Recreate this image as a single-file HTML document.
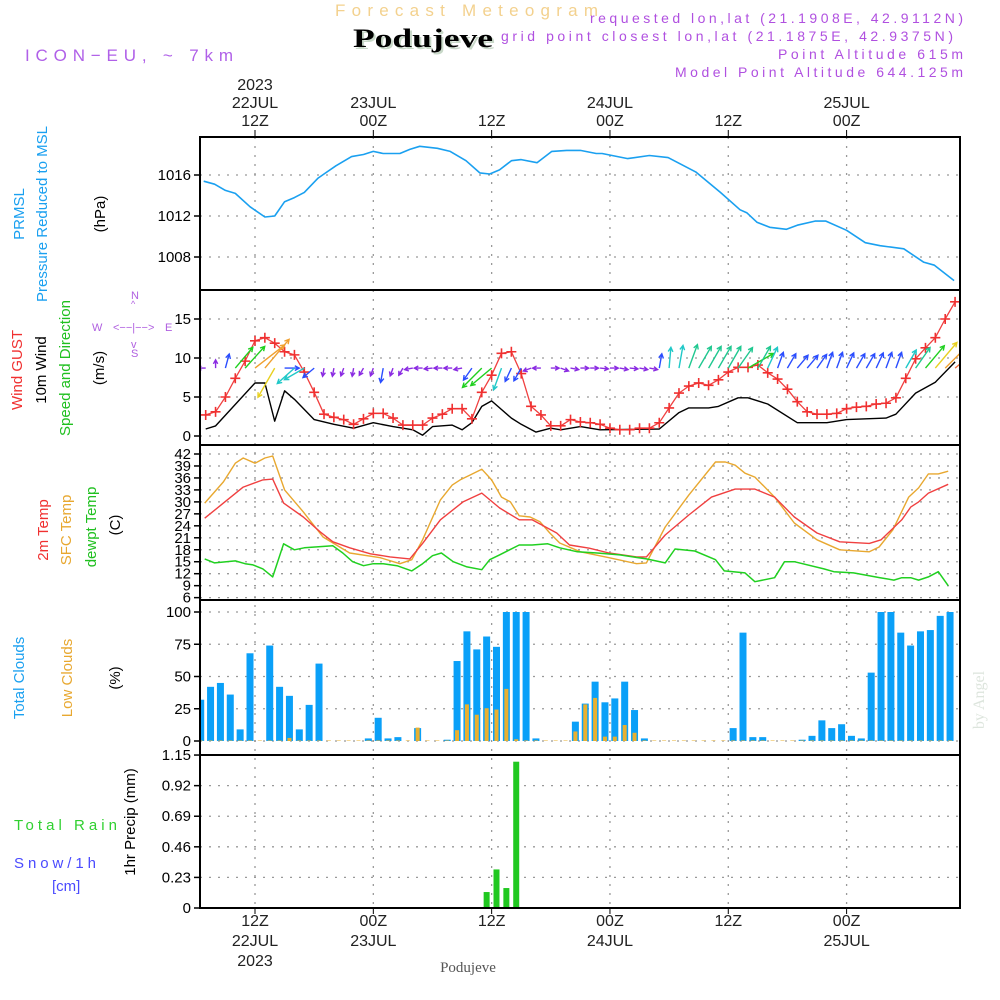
<!DOCTYPE html>
<html><head><meta charset="utf-8"><style>
html,body{margin:0;padding:0;background:#fff;}
svg{display:block;font-family:"Liberation Sans",sans-serif;}
</style></head><body>
<svg id="chart" width="1000" height="1000" viewBox="0 0 1000 1000" xmlns="http://www.w3.org/2000/svg">
<g id="static">
 <text x="335" y="16" font-size="17" fill="#f3d18e" textLength="263" lengthAdjust="spacing">Forecast Meteogram</text>
 <text x="355" y="49" font-size="26" font-weight="bold" font-family="Liberation Serif,serif" fill="#c8d8c8" textLength="140" lengthAdjust="spacingAndGlyphs">Podujeve</text>
 <text x="353" y="47" font-size="26" font-weight="bold" font-family="Liberation Serif,serif" fill="#000" textLength="140" lengthAdjust="spacingAndGlyphs">Podujeve</text>
 <text x="25" y="61" font-size="17" fill="#b060e8" textLength="208">ICON−EU, ~ 7km</text>
 <g font-size="14" fill="#b050e0" text-anchor="end">
  <text x="963" y="23" textLength="373">requested lon,lat (21.1908E, 42.9112N)</text>
  <text x="953" y="41" textLength="452">grid point closest lon,lat (21.1875E, 42.9375N)</text>
  <text x="963" y="59" textLength="185">Point Altitude 615m</text>
  <text x="963" y="77" textLength="288">Model Point Altitude 644.125m</text>
 </g>
 <text transform="translate(984,700) rotate(-90)" text-anchor="middle" font-size="16" font-family="Liberation Serif,serif" fill="#dde5dd">by Angel</text>
 <g font-size="15">
  <text transform="translate(24,214) rotate(-90)" text-anchor="middle" fill="#1aa0f0">PRMSL</text>
  <text transform="translate(47,214) rotate(-90)" text-anchor="middle" fill="#1aa0f0">Pressure Reduced to MSL</text>
  <text transform="translate(105,214) rotate(-90)" text-anchor="middle" fill="#000">(hPa)</text>
  <text transform="translate(22,370) rotate(-90)" text-anchor="middle" fill="#f03030">Wind GUST</text>
  <text transform="translate(46,370) rotate(-90)" text-anchor="middle" fill="#000">10m Wind</text>
  <text transform="translate(70,368) rotate(-90)" text-anchor="middle" fill="#20c020">Speed and Direction</text>
  <text transform="translate(104,368) rotate(-90)" text-anchor="middle" fill="#000">(m/s)</text>
  <text transform="translate(48,530) rotate(-90)" text-anchor="middle" fill="#f03030">2m Temp</text>
  <text transform="translate(71,530) rotate(-90)" text-anchor="middle" fill="#e8a830">SFC Temp</text>
  <text transform="translate(96,527) rotate(-90)" text-anchor="middle" fill="#20c020">dewpt Temp</text>
  <text transform="translate(120,525) rotate(-90)" text-anchor="middle" fill="#000">(C)</text>
  <text transform="translate(24,678) rotate(-90)" text-anchor="middle" fill="#1aa0f0">Total Clouds</text>
  <text transform="translate(72,678) rotate(-90)" text-anchor="middle" fill="#e8a830">Low Clouds</text>
  <text transform="translate(120,678) rotate(-90)" text-anchor="middle" fill="#000">(%)</text>
  <text transform="translate(135,822) rotate(-90)" text-anchor="middle" fill="#000">1hr Precip (mm)</text>
  <text x="14" y="830" fill="#30d030" textLength="103" lengthAdjust="spacing">Total  Rain</text>
  <text x="14" y="868" fill="#4a4aff" textLength="82">Snow/1h</text>
  <text x="52" y="891" fill="#4a4aff">[cm]</text>
 </g>
 <g font-size="11" fill="#b060e0">
  <text x="131" y="299">N</text><text x="131" y="307" font-size="9">^</text>
  <text x="92" y="331">W</text><text x="113" y="331">&lt;−−|−−&gt;</text><text x="165" y="331">E</text>
  <text x="131" y="348">v</text><text x="131" y="357">S</text>
 </g>
 <text x="468" y="972" text-anchor="middle" font-size="15" font-family="Liberation Serif,serif" fill="#555">Podujeve</text>
</g>
<g id="dyn"></g>
</svg>
<script>
// ---------- DATA ----------
const pressHours = [6.8,7.9,9,10,11.5,13,14,15,16,17,18.4,19,20.2,21.8,23,24,25,26.7,27.7,28.7,30.5,31.8,33.4,34.8,35.8,36.8,38,39,40.6,42.1,43.6,45,46.6,47.2,49.8,52,53.9,56.7,59.2,61.2,61.9,62.9,64.2,65.9,67,68.8,69.9,72,73.9,75.4,77.8,79.8,80.9,82.9];
const pressVals = [1015.4,1015.1,1014.5,1014.2,1012.9,1011.9,1012.0,1013.4,1013.8,1014.3,1015.7,1016.1,1016.9,1017.8,1018.0,1018.3,1018.1,1018.1,1018.5,1018.8,1018.6,1018.3,1017.4,1016.2,1016.1,1016.5,1017.4,1017.5,1017.2,1018.3,1018.4,1018.4,1018.1,1018.1,1017.6,1017.9,1017.7,1016.3,1014.3,1012.6,1012.3,1011.4,1010.9,1010.7,1011.1,1011.5,1011.5,1010.6,1009.4,1009.1,1008.8,1007.5,1007.2,1005.7];
const pressTicks = [1008,1012,1016];

const gustStart = 7;
const gustVals = [2.7,3.1,5,7.4,9.6,12.2,12.6,11.9,10.8,10.4,8.2,5.6,2.8,2.4,2.1,1.5,2.2,2.9,2.9,2.3,1.4,1.4,1.4,2.3,2.8,3.5,3.5,2.2,5.6,7.8,10.6,10.8,8,3.8,2.7,1.3,1.3,2.1,1.8,1.7,1.5,1.0,0.8,0.8,1.0,1.0,1.7,3.6,5.5,6.4,6.8,6.5,7.2,8.2,8.8,8.8,9.1,8.1,7.3,6.0,4.4,3.1,2.8,2.8,2.9,3.5,3.7,3.8,4.1,4.2,4.9,7.4,9.9,11.3,12.6,15,17.2];
const windHours = [7,8,12,13,14,15,16,18,20,22,24,26,28,29,30,32,33,34,35,36,38,39,40.5,42,43,45,47,53,55,56,58,59,61,62,64,67,70,72,74,76,77,79,81,83];
const windVals = [0.9,1.3,6.8,6.8,1.9,5.8,4.7,2.1,1.5,1.0,1.7,1.2,0.8,0.1,1.2,1.4,0.8,1.7,3.8,4.5,2.3,1.5,0.5,1.0,0.8,1.2,0.8,0.9,3.0,3.6,3.6,3.8,4.9,4.9,4.1,1.7,1.7,2.1,2.2,2.3,2.8,5.5,6.9,9.5];
const arrowDir = [270,0,15,40,42,52,40,210,90,228,240,230,190,190,200,190,210,200,190,200,210,260,270,265,270,270,260,215,225,230,200,205,210,250,270,90,110,100,90,90,95,90,100,95,100,100,10,5,10,20,30,30,30,30,35,60,30,25,20,30,40,40,35,20,20,25,30,30,25,20,20,30,35,40,40,45,50];
const arrowSpd = [1.5,1.5,3,6,6.5,8.5,8.5,7.5,3,5,5,3,1.5,1.5,1.5,1.5,1.5,1.5,3,1.5,1.5,1.5,1.5,1.5,1.5,1.5,1.5,3,6,6,5,3,3,1.5,1.5,1.5,1.5,1.5,1.5,1.5,1.5,1.5,1.5,1.5,1.5,1.5,3,4.5,5,5.5,5.5,5.5,5.5,5.5,5.5,6.5,5.5,5,3.5,3.5,3.5,3.5,3.5,3.5,3.5,3.5,3.5,3.5,3.5,3.5,3.5,4.5,5.5,6.5,7.5,8.5,9.5];
const windTicks = [0,5,10,15];

const t2Hours = [6.9,8.8,10.8,12.8,13.8,14.9,16.9,18.6,19.9,21.6,23.7,25.7,27.7,29,30.8,33.1,35,36.8,38.8,40.1,42.6,43.9,45.9,47.9,50.7,51.7,53.6,56,58.3,60.7,62.7,64.7,66.7,69,71.3,74.3,75.5,77.6,78.5,79.3,80.3,82.3];
const t2Vals = [25.9,29.7,33.7,35.5,35.7,29.7,26.2,22.5,20,18.5,17,16.2,15.7,19.6,25.5,30,32.2,28.5,25.5,25.5,22.2,19.2,18.4,17.2,16.2,16.2,21.7,26.7,31.2,33.2,33.2,31.2,26.2,22.2,20,19.6,20.5,25.5,28.7,30,32.2,34.4];
const sfcHours = [6.9,8.8,10,10.8,12,13,13.8,15,16.9,18.9,21.6,24.7,26.7,27.9,29,30.8,32,32.8,33.8,35,36,37,37.9,38.8,39.9,40.9,41.9,42.9,45,47.9,50.7,51.7,53.6,56,58.7,59.7,60.7,61.7,62.7,64.7,66.7,69,71.3,74.3,75.3,76.7,78.3,79.3,80.3,81.3,82.3];
const sfcVals = [29.7,35,39.7,41,39.7,41,41.5,33,27.5,21.2,17.2,16,14.5,15.5,20.5,30.5,34.2,35.5,36.7,38.2,35.5,31.2,30,26.5,26.2,25,22.2,19.7,17.5,16,14.5,14.7,23.7,31.7,40,40,39.2,37.2,36.2,31.2,24.7,20.5,18,17.5,18.7,23,31.2,33.5,37,37,37.7];
const dewHours = [6.9,7.9,10,11,11.8,12.8,13.8,14.9,16,17,19.9,20.9,21.9,23,24,25,26.4,27.9,29,30,30.9,32.1,33.5,35,35.8,36.8,38.8,40.1,41.7,42.9,44.7,46.7,49,51.7,53.6,54.6,56.6,58.7,59.6,61.7,62.7,64.7,65.7,66.7,69.7,70.7,72.7,75.4,76.8,77.6,78.5,79.3,80.3,81.3,82.3];
const dewVals = [15.7,14.7,15.2,14.5,14.2,13.2,11.2,19.5,18,18.5,19,17.2,15,14,14.5,14.5,14,12.7,14.5,16.5,17.2,15,13.7,13,15.5,16.7,19.2,19.2,19.5,18.5,17.5,17.2,16.7,15.7,14.7,18.2,17.7,15.5,12.7,12.2,10,11,15,15,13.2,12.5,12.2,11,10.4,11,11,10.4,11.2,12.5,9,8.2];
const tempTicks = [6,9,12,15,18,21,24,27,30,33,36,39,42];

const cloudStart = 7;
const totalCloud = [32,42,45,36,9,68,0,74,42,35,9,28,60,0,0,0,0,2,18,2,3,0,10,0,0,1,62,85,71,81,73,100,100,100,2,0,0,0,15,29,46,30,33,46,24,2,0,0,0,0,0,0,0,0,10,84,3,3,0,0,0,1,4,16,10,13,4,2,53,100,100,84,74,85,86,97,100];
const lowCloud   = [0,0,0,0,0,0,0,0,0,2,0,0,0,0,0,0,0,0,0,0,0,0,10,0,0,0,8,28,20,25,24,40,1,0,0,0,0,0,7,28,33,3,3,12,6,0,0,0,0,0,0,0,0,0,0,0,0,0,0,0,0,0,0,0,0,0,0,0,0,0,0,0,0,0,0,0,0];
const cloudTicks = [0,25,50,75,100];

const precipHours = [36,37,38,39];
const precipVals = [0.12,0.29,0.15,1.1];
const precipTicks = ["0","0.23","0.46","0.69","0.92","1.15"];

const topLabels = [[12,"2023","22JUL","12Z"],[24,"","23JUL","00Z"],[36,"","","12Z"],[48,"","24JUL","00Z"],[60,"","","12Z"],[72,"","25JUL","00Z"]];
const botLabels = [[12,"12Z","22JUL","2023"],[24,"00Z","23JUL",""],[36,"12Z","",""],[48,"00Z","24JUL",""],[60,"12Z","",""],[72,"00Z","25JUL",""]];

// ---------- AXES ----------
const L=200,R=960;
const P={press:[137,290],wind:[290,445],temp:[445,600],cloud:[600,755],prec:[755,908]};
const xh = h => 255 + (h-12)*9.86;
const yPress = v => 175 + (1016 - v)*10.25;
const yWind = v => 436 - v*7.8;
const yTemp = v => 454 + (42 - v)*3.99;
const yCloud = v => 741 - v*1.29;
const yPrec = v => 908 - v*133;

const NS="http://www.w3.org/2000/svg";
const dyn=document.getElementById('dyn');
function mk(tag,attrs,parent){const e=document.createElementNS(NS,tag);for(const k in attrs)e.setAttribute(k,attrs[k]);(parent||dyn).appendChild(e);return e;}

const defs=mk('defs',{});
const cp=mk('clipPath',{id:'plotclip'},defs);
mk('rect',{x:L,y:137,width:R-L,height:771},cp);

// grids
const grid=mk('g',{stroke:'#999','stroke-width':1.3,'stroke-dasharray':'2,7',fill:'none'});


for(const t of topLabels){const l=mk('line',{x1:xh(t[0]),x2:xh(t[0]),y1:137,y2:908},grid);
 
 }
function hgrid(vals,f){for(const v of vals){const y=f(v);const l=mk('line',{x1:L,x2:R,y1:y,y2:y},grid);
 
 }}
hgrid(pressTicks,yPress);hgrid(windTicks,yWind);hgrid(tempTicks,yTemp);hgrid(cloudTicks,yCloud);
hgrid(precipTicks.map(Number),yPrec);

// y tick labels
function yticks(vals,f,labels){const g=mk('g',{'font-size':15,fill:'#000'});
 
 
 vals.forEach((v,i)=>{const y=f(v);mk('line',{x1:L-6,x2:L,y1:y,y2:y,stroke:'#000','stroke-width':1.5},g);
  const t=mk('text',{x:L-9,y:y+5,'text-anchor':'end'},g);t.textContent=labels?labels[i]:String(v);
  
  });}
yticks(pressTicks,yPress);yticks(windTicks,yWind);yticks(tempTicks,yTemp);
yticks(cloudTicks,yCloud);yticks(precipTicks.map(Number),yPrec,precipTicks);

// time labels
const tl=mk('g',{'font-size':16,fill:'#222'});


function tlab(x,y,s,name){const t=mk('text',{x:x,y:y,'text-anchor':'middle'},tl);t.textContent=s;
 
 }
for(const t of topLabels){const x=xh(t[0]);
 if(t[1])tlab(x,90,t[1],'top-year-label');
 if(t[2])tlab(x,108,t[2],'top-date-label');
 tlab(x,126,t[3],'top-hour-label');
 mk('line',{x1:x,x2:x,y1:130,y2:137,stroke:'#000'});}
for(const t of botLabels){const x=xh(t[0]);
 tlab(x,926,t[1],'bottom-hour-label');
 if(t[2])tlab(x,946,t[2],'bottom-date-label');
 if(t[3])tlab(x,966,t[3],'bottom-year-label');
 mk('line',{x1:x,x2:x,y1:908,y2:914,stroke:'#000'});}

const plot=mk('g',{'clip-path':'url(#plotclip)'});


function line(hs,vs,f,color,w,name){const d=hs.map((h,i)=>(i?'L':'M')+xh(h).toFixed(1)+','+f(vs[i]).toFixed(1)).join('');
 const p=mk('path',{d:d,fill:'none',stroke:color,'stroke-width':w||1.5,'stroke-linejoin':'round'},plot);
 
 return p;}

line(pressHours,pressVals,yPress,'#1aa0f0',1.6,'pressure-line');
line(windHours,windVals,yWind,'#000',1.4,'wind-speed-line');
const gH=gustVals.map((v,i)=>gustStart+i);
line(gH,gustVals,yWind,'#f04040',1.3,'gust-line');
gustVals.forEach((v,i)=>{const x=xh(gustStart+i),y=yWind(v);
 const m=mk('path',{d:`M${x-5},${y}H${x+5}M${x},${y-5}V${y+5}`,stroke:'#f03030','stroke-width':1.6},plot);
 
 });

function spdColor(s){if(s<2)return'#8a2be2';if(s<4)return'#2a4dff';if(s<5.2)return'#20c8c8';if(s<6)return'#20c890';if(s<7)return'#20d020';if(s<8)return'#e8d020';if(s<9)return'#f0a030';if(s<10)return'#f07040';return'#e040a0';}
arrowSpd.forEach((s,i)=>{const x0=xh(gustStart+i),y0=yWind(8.7);const a=arrowDir[i]*Math.PI/180;const len=s*4.2+2;
 const x1=x0+Math.sin(a)*len,y1=y0-Math.cos(a)*len;const hl=Math.min(5,len*0.55);
 const b1=a+Math.PI-0.5,b2=a+Math.PI+0.5;const c=spdColor(s);
 const d=`M${x0.toFixed(1)},${y0.toFixed(1)}L${x1.toFixed(1)},${y1.toFixed(1)}M${(x1+Math.sin(b1)*hl).toFixed(1)},${(y1-Math.cos(b1)*hl).toFixed(1)}L${x1.toFixed(1)},${y1.toFixed(1)}L${(x1+Math.sin(b2)*hl).toFixed(1)},${(y1-Math.cos(b2)*hl).toFixed(1)}`;
 const p=mk('path',{d:d,stroke:c,'stroke-width':1.4,fill:'none'},plot);
 
 });

line(sfcHours,sfcVals,yTemp,'#e8a830',1.4,'sfc-temp-line');
line(t2Hours,t2Vals,yTemp,'#f04040',1.4,'t2m-line');
line(dewHours,dewVals,yTemp,'#20d020',1.5,'dewpoint-line');

totalCloud.forEach((v,i)=>{const cx=xh(cloudStart+i)-5;const y=yCloud(v);
 const r=mk('rect',{x:cx-3.5,y:y,width:7,height:yCloud(0)-y,fill:'#0aa0f8'},plot);
 
 });
lowCloud.forEach((v,i)=>{const cx=xh(cloudStart+i)-5;const y=yCloud(v);
 const r=mk('rect',{x:cx-2,y:y-0.5,width:4,height:yCloud(0)-y+0.5,fill:'#e8b030'},plot);
 
 });
precipVals.forEach((v,i)=>{const cx=xh(precipHours[i])-5;const y=yPrec(v);
 const r=mk('rect',{x:cx-3,y:y,width:6,height:yPrec(0)-y,fill:'#20c820'},plot);
 
 });

// frames
const fr=mk('g',{stroke:'#000','stroke-width':2,fill:'none'});


for(const k in P){const r=mk('rect',{x:L,y:P[k][0],width:R-L,height:P[k][1]-P[k][0]},fr);
 
 }
</script>
</body></html>
